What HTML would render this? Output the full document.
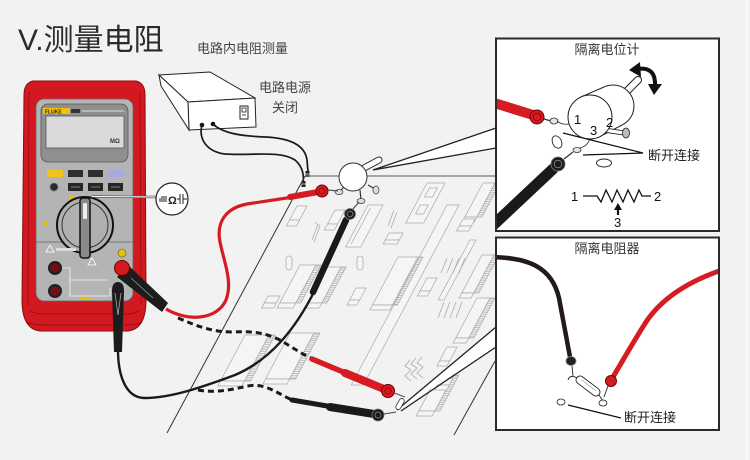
<!DOCTYPE html>
<html><head><meta charset="utf-8"><style>
html,body{margin:0;padding:0;background:#f2f2f2;}
svg{display:block;}
text{font-family:"Liberation Sans","Noto Sans CJK SC",sans-serif;}
.c{fill:#f5f5f5;stroke:#ababab;stroke-width:.8}
.s{stroke:#ababab;stroke-width:.8}
.k{fill:none;stroke:#ababab;stroke-width:.8}
</style></head><body>
<svg width="750" height="460" viewBox="0 0 750 460" xmlns="http://www.w3.org/2000/svg">
<defs>
<pattern id="h" width="4" height="2.2" patternUnits="userSpaceOnUse"><line x1="0" y1="1" x2="4" y2="1" stroke="#a5a5a5" stroke-width="0.7"/></pattern>
<clipPath id="cp1"><rect x="497" y="39.5" width="221" height="190.5"/></clipPath>
<clipPath id="cp2"><rect x="497" y="238.5" width="221" height="190.5"/></clipPath>
</defs>
<rect width="750" height="460" fill="#f2f2f2"/>
<line x1="746.5" y1="0" x2="746.5" y2="460" stroke="#fbfbfb" stroke-width="2"/>

<!-- Titles -->
<text x="18" y="50" font-size="30" fill="#2b2b2b">V.测量电阻</text>
<text x="197" y="53" font-size="13" fill="#444">电路内电阻测量</text>
<text x="259" y="92" font-size="13" fill="#444">电路电源</text>
<text x="272" y="112" font-size="13" fill="#444">关闭</text>

<!-- Power box -->
<polygon points="159,75 210,72 255,98 188,102" fill="#fff" stroke="#222" stroke-width="1"/>
<polygon points="188,102 255,98 256,127 189,130" fill="#fff" stroke="#222" stroke-width="1"/>
<polygon points="159,75 188,102 189,130 161,86" fill="#fff" stroke="#222" stroke-width="1"/>
<rect x="240" y="106" width="8" height="13" fill="#fff" stroke="#222" stroke-width="1"/>
<rect x="242" y="108" width="4" height="4" fill="none" stroke="#222" stroke-width="0.8"/>
<line x1="242" y1="115" x2="246" y2="115" stroke="#222" stroke-width="0.8"/>
<circle cx="202" cy="125" r="2.3" fill="#111"/>
<circle cx="213" cy="124" r="2.3" fill="#111"/>

<!-- Power wires -->
<path d="M202,125 C198,140 208,152 225,154 C250,156 280,150 295,160 C303,167 304,176 303,183" fill="none" stroke="#1a1a1a" stroke-width="1.7"/>
<path d="M213,124 C222,133 240,136 265,137 C290,138 305,145 307,160 L308,172" fill="none" stroke="#1a1a1a" stroke-width="1.7"/>
<rect x="305.5" y="171" width="4" height="6" fill="#222"/>
<rect x="301.5" y="181" width="4" height="6" fill="#222"/>
<line x1="305.5" y1="174" x2="309.5" y2="174" stroke="#ddd" stroke-width="0.8"/>
<line x1="301.5" y1="184" x2="305.5" y2="184" stroke="#ddd" stroke-width="0.8"/>

<!-- Board -->
<line x1="305" y1="176" x2="496" y2="176" stroke="#777" stroke-width="1.2"/>
<line x1="305" y1="176" x2="167" y2="433" stroke="#333" stroke-width="1"/>
<line x1="454" y1="435" x2="495" y2="361" stroke="#333" stroke-width="1"/>

<!-- Board components -->
<g>
 <!-- long strip -->
 <g transform="translate(447,205) skewX(-28)"><rect width="12" height="180" class="c"/></g>
 <g transform="translate(470,240) skewX(-28)"><rect width="6" height="60" class="c"/></g>
 <!-- plain rect -->
 <g transform="translate(368,205) skewX(-28)"><rect width="15" height="42" class="c"/><line x1="4" y1="3" x2="4" y2="39" class="s"/></g>
 <!-- frame with squares -->
 <g transform="translate(427,183) skewX(-28)"><rect width="18" height="40" class="c"/><rect x="5" y="5" width="8" height="9" class="c"/><rect x="5" y="22" width="8" height="9" class="c"/></g>
 <!-- ICs hatched -->
 <g transform="translate(300,265) skewX(-28)"><rect width="16" height="38" class="c"/><rect x="16" width="5" height="38" fill="url(#h)" class="s"/><rect y="38" width="16" height="5" class="c"/></g>
 <g transform="translate(327,267) skewX(-28)"><rect width="14" height="36" class="c"/><rect x="14" width="5" height="36" fill="url(#h)" class="s"/><rect y="36" width="14" height="5" class="c"/></g>
 <g transform="translate(398,257) skewX(-28)"><rect width="20" height="48" class="c"/><rect x="20" width="5" height="48" fill="url(#h)" class="s"/><rect y="48" width="20" height="5" class="c"/></g>
 <g transform="translate(483,183) skewX(-28)"><rect width="12" height="34" class="c"/><rect x="12" width="5" height="34" fill="url(#h)" class="s"/><rect y="34" width="12" height="5" class="c"/></g>
 <g transform="translate(482,255) skewX(-28)"><rect width="12" height="38" class="c"/><rect x="12" width="5" height="38" fill="url(#h)" class="s"/><rect y="38" width="12" height="5" class="c"/></g>
 <g transform="translate(477,298) skewX(-28)"><rect width="13" height="40" class="c"/><rect x="13" width="5" height="40" fill="url(#h)" class="s"/><rect y="40" width="13" height="5" class="c"/></g>
 <g transform="translate(245,335) skewX(-28)"><rect width="24" height="46" class="c"/><rect x="24" width="6" height="46" fill="url(#h)" class="s"/><rect y="46" width="24" height="5" class="c"/></g>
 <g transform="translate(290,333) skewX(-28)"><rect width="24" height="46" class="c"/><rect x="24" width="6" height="46" fill="url(#h)" class="s"/><rect y="46" width="24" height="5" class="c"/></g>
 <g transform="translate(438,375) skewX(-28)"><rect width="16" height="36" class="c"/><rect x="16" width="5" height="36" fill="url(#h)" class="s"/><rect y="36" width="16" height="5" class="c"/></g>
 <!-- cubes -->
 <g transform="translate(297,206) skewX(-28)"><rect width="10" height="14" class="c"/><rect y="14" width="10" height="6" class="c"/></g>
 <g transform="translate(335,210) skewX(-28)"><rect width="10" height="14" class="c"/><rect y="14" width="10" height="6" class="c"/></g>
 <g transform="translate(268,296) skewX(-28)"><rect width="12" height="7" class="c"/><rect y="7" width="12" height="5" class="c"/></g>
 <g transform="translate(356,288) skewX(-28)"><rect width="10" height="12" class="c"/><rect y="12" width="10" height="5" class="c"/></g>
 <g transform="translate(427,278) skewX(-28)"><rect width="10" height="13" class="c"/><rect y="13" width="10" height="5" class="c"/></g>
 <g transform="translate(463,219) skewX(-28)"><rect width="12" height="7" class="c"/><rect y="7" width="12" height="5" class="c"/></g>
 <g transform="translate(447,347) skewX(-28)"><rect width="10" height="14" class="c"/><rect y="14" width="10" height="5" class="c"/></g>
 <g transform="translate(441,378) skewX(-28)"><rect width="12" height="7" class="c"/><rect y="7" width="12" height="5" class="c"/></g>
 <g transform="translate(389,233) skewX(-28)"><rect width="14" height="7" class="c"/><rect y="7" width="14" height="4" class="c"/></g>
 <!-- capacitors -->
 <rect x="286" y="256" width="6" height="14" rx="3" class="c"/>
 <rect x="357" y="256" width="6" height="14" rx="3" class="c"/>
 <!-- resistor pins -->
 <path d="M318,224 L312,240 M315,222 L320,226 L314,242 M394,210 L388,226 M397,212 L391,228" class="k"/>
 <path d="M447,258 L441,273 M453,258 L447,273 M459,258 L453,273 M465,258 L459,273 M444,302 L438,318 M450,302 L444,318 M456,302 L450,318 M462,302 L456,318" class="k"/>
 <path d="M410,360 L405,366 L411,370 L405,376 L411,381 M416,358 L411,364 L417,368 L411,374 L417,379 M422,357 L417,363 L423,367 L417,373 L423,378" class="k"/>
</g>

<!-- Callout wedges -->
<polygon points="373,170 496,128 496,148" fill="#fff"/>
<line x1="373" y1="170" x2="496" y2="128" stroke="#222" stroke-width="1.3"/>
<line x1="373" y1="170" x2="496" y2="148" stroke="#222" stroke-width="1.3"/>
<polygon points="398,410 496,327 496,347" fill="#fff"/>
<line x1="397" y1="410" x2="496" y2="327" stroke="#222" stroke-width="1.3"/>
<line x1="401" y1="411" x2="496" y2="347" stroke="#222" stroke-width="1.3"/>

<!-- Pot on board -->
<line x1="364" y1="168" x2="379" y2="160" stroke="#333" stroke-width="7" stroke-linecap="round"/>
<line x1="364" y1="168" x2="379" y2="160" stroke="#fff" stroke-width="5" stroke-linecap="round"/>
<path d="M345,186 L340,191 M360,190 L361,200 M368,185 L375,189" stroke="#333" stroke-width="1.2"/>
<circle cx="353" cy="177" r="14" fill="#fff" stroke="#333" stroke-width="1"/>
<ellipse cx="339" cy="192" rx="4" ry="2.5" fill="#ddd" stroke="#333" stroke-width="0.7"/>
<ellipse cx="361" cy="201" rx="4" ry="2.5" fill="#ddd" stroke="#333" stroke-width="0.7"/>
<ellipse cx="376" cy="190" rx="3" ry="4" fill="#ddd" stroke="#333" stroke-width="0.7"/>

<!-- small resistor at bottom wedge apex -->
<g transform="translate(400,404) rotate(30)"><rect x="-2.5" y="-6" width="5" height="12" rx="2.5" fill="#fff" stroke="#333" stroke-width="0.8"/></g>

<!-- Meter -->
<path d="M33,81 Q24,83 24,95 L22,300 Q22,329 40,331 L128,331 Q146,329 146,300 L145,95 Q145,83 136,81 Z" fill="#d41820" stroke="#8a0c10" stroke-width="1"/>
<line x1="29" y1="92" x2="28" y2="305" stroke="#9a0d13" stroke-width="0.8"/>
<line x1="140" y1="92" x2="141" y2="305" stroke="#9a0d13" stroke-width="0.8"/>
<path d="M30,310 Q34,314 45,314 L125,314 Q136,314 139,310" fill="none" stroke="#8a0c10" stroke-width="0.8"/>
<path d="M27,322 Q32,325 45,325 L125,325 Q137,325 142,322" fill="none" stroke="#8a0c10" stroke-width="0.8"/>
<rect x="36" y="99" width="97" height="202" rx="8" fill="#b4b4b4" stroke="#666" stroke-width="0.8"/>
<rect x="41" y="104" width="87" height="58" rx="7" fill="#8f8f8f" stroke="#555" stroke-width="0.8"/>
<rect x="43" y="108" width="27" height="6" fill="#f2c200"/>
<text x="45" y="113.3" font-size="5" font-weight="bold" fill="#222">FLUKE</text>
<rect x="71" y="109" width="9" height="4" fill="#333"/>
<line x1="82" y1="111" x2="124" y2="111" stroke="#ddd" stroke-width="1"/>
<rect x="46" y="116" width="78" height="32" fill="#d9d9d9" stroke="#555" stroke-width="0.8"/>
<text x="110" y="143" font-size="6" font-weight="bold" fill="#333">MΩ</text>
<!-- buttons -->
<rect x="47" y="170" width="16" height="7" fill="#f0c419"/>
<rect x="68" y="170" width="15" height="7" fill="#2e2e2e"/>
<rect x="88" y="170" width="15" height="7" fill="#2e2e2e"/>
<rect x="108" y="170" width="16" height="7" fill="#a9a9e2"/>
<circle cx="54" cy="187" r="4" fill="#2a2a2a" stroke="#777" stroke-width="0.8"/>
<rect x="68" y="183" width="15" height="8" fill="#262626"/>
<rect x="88" y="183" width="15" height="8" fill="#262626"/>
<rect x="108" y="183" width="15" height="8" fill="#262626"/>
<line x1="71" y1="187" x2="80" y2="187" stroke="#999" stroke-width="0.8"/>
<line x1="91" y1="187" x2="100" y2="187" stroke="#999" stroke-width="0.8"/>
<line x1="111" y1="187" x2="120" y2="187" stroke="#999" stroke-width="0.8"/>
<!-- divider -->
<line x1="36" y1="242" x2="133" y2="242" stroke="#666" stroke-width="0.8"/>
<rect x="44" y="222" width="4" height="4" fill="#e8c200"/>
<rect x="69" y="196" width="4" height="3" fill="#e8c200"/>
<rect x="84" y="196" width="4" height="3" fill="#fff"/>
<!-- knob -->
<circle cx="85" cy="225" r="28" fill="#b0b0b0" stroke="#111" stroke-width="2"/>
<circle cx="85" cy="225" r="23" fill="none" stroke="#333" stroke-width="1"/>
<rect x="80" y="198" width="10" height="60" rx="3" fill="#8a8a8a" stroke="#111" stroke-width="1.5"/>
<rect x="83" y="203" width="4" height="16" rx="1.5" fill="#eee"/>
<!-- jacks -->
<circle cx="55" cy="268" r="7" fill="#222"/>
<circle cx="55" cy="268" r="4.5" fill="#7a0d14"/>
<circle cx="55" cy="291" r="7" fill="#222"/>
<circle cx="55" cy="291" r="4.5" fill="#7a0d14"/>
<polyline points="63,268 70,268 70,296 110,296 110,288" fill="none" stroke="#f4f4f4" stroke-width="0.8"/>
<line x1="70" y1="280" x2="108" y2="280" stroke="#f4f4f4" stroke-width="0.8"/>
<polygon points="46,252 50,245 54,252" fill="none" stroke="#fff" stroke-width="0.8"/>
<rect x="56" y="248" width="20" height="3" fill="#ddd"/>
<polygon points="88,265 92,258 96,265" fill="none" stroke="#fff" stroke-width="0.8"/>
<rect x="80" y="297" width="12" height="3" fill="#e8c200"/>
<circle cx="122" cy="253" r="4" fill="#e8c200" stroke="#555" stroke-width="0.6"/>

<!-- Red probe plug at meter -->
<polygon points="117,277 128,265 168,303 162,312" fill="#1c1c1c"/>
<line x1="131" y1="278" x2="153" y2="298" stroke="#9a9a9a" stroke-width="0.8"/>
<circle cx="122" cy="268" r="7.5" fill="#d51a1f" stroke="#6b0000" stroke-width="1"/>
<!-- COM probe -->
<path d="M112,291 Q112,282 118,282 Q124,282 124,291 L122,352 L114,352 Z" fill="#1c1c1c"/>
<polyline points="115,293 118,315 121,293" fill="none" stroke="#aaa" stroke-width="0.8"/>

<!-- Main red wire -->
<path d="M300,196 L247,204 C226,208 216,222 220,242 C224,262 233,282 226,300 C217,320 188,322 166,309" fill="none" stroke="#d41c22" stroke-width="3.2"/>
<!-- Black COM wire -->
<path d="M118,350 C118,372 124,398 145,398 C170,398 200,388 235,375 C270,360 295,330 315,290" fill="none" stroke="#1a1a1a" stroke-width="2.4"/>

<!-- Dashed lines -->
<path d="M178,318 C195,325 210,332 232,332 C255,331 265,333 280,340 C292,347 300,353 311,358" fill="none" stroke="#1a1a1a" stroke-width="3" stroke-dasharray="6 4"/>
<path d="M198,390 C215,393 230,390 248,386 C265,383 275,392 292,400" fill="none" stroke="#1a1a1a" stroke-width="3" stroke-dasharray="6 4"/>

<!-- Board probes -->
<line x1="290" y1="197" x2="318" y2="192" stroke="#d41c22" stroke-width="6" stroke-linecap="round"/>
<circle cx="322" cy="191" r="6" fill="#d41c22" stroke="#700" stroke-width="1"/>
<circle cx="322" cy="191" r="3" fill="none" stroke="#900" stroke-width="0.8"/>
<line x1="328" y1="190" x2="338" y2="191" stroke="#555" stroke-width="1.2"/>

<line x1="313" y1="292" x2="346" y2="220" stroke="#1a1a1a" stroke-width="6.5" stroke-linecap="round"/>
<circle cx="350" cy="214" r="5.5" fill="#1a1a1a" stroke="#777" stroke-width="0.8"/>
<circle cx="350" cy="214" r="2.8" fill="none" stroke="#888" stroke-width="0.8"/>
<line x1="353" y1="209" x2="359" y2="202" stroke="#444" stroke-width="1.1"/>

<line x1="312" y1="359" x2="384" y2="389" stroke="#d41c22" stroke-width="5.5" stroke-linecap="round"/>
<line x1="345" y1="373" x2="384" y2="389" stroke="#d41c22" stroke-width="8" stroke-linecap="round"/>
<circle cx="388" cy="391" r="6.5" fill="#d41c22" stroke="#700" stroke-width="1"/>
<circle cx="388" cy="391" r="3.2" fill="none" stroke="#900" stroke-width="0.8"/>
<line x1="394" y1="393" x2="405" y2="397" stroke="#555" stroke-width="1.1"/>

<line x1="292" y1="400" x2="374" y2="414" stroke="#1a1a1a" stroke-width="5" stroke-linecap="round"/>
<line x1="330" y1="407" x2="374" y2="414" stroke="#1a1a1a" stroke-width="8" stroke-linecap="round"/>
<circle cx="378" cy="415" r="6" fill="#1a1a1a" stroke="#777" stroke-width="0.8"/>
<circle cx="378" cy="415" r="3" fill="none" stroke="#888" stroke-width="0.8"/>
<line x1="384" y1="414" x2="396" y2="412" stroke="#444" stroke-width="1.1"/>

<!-- Ohm callout -->
<line x1="92" y1="196.5" x2="157" y2="197" stroke="#555" stroke-width="2.4"/>
<line x1="92" y1="196.5" x2="157" y2="197" stroke="#fff" stroke-width="1"/>
<circle cx="172" cy="199" r="16" fill="#fff" stroke="#222" stroke-width="1.2"/>
<path d="M160,198 L160,202 M162,196 L162,202 M164,196 L164,202 M166,196 L166,202" stroke="#222" stroke-width="1"/>
<text x="168" y="204" font-size="11" font-weight="bold" fill="#222">Ω</text>
<path d="M177,199 L180,199 M180,194 L180,204 M183,194 L183,204 M183,199 L187,199" stroke="#222" stroke-width="1"/>

<!-- Panel 1 -->
<rect x="496" y="38.5" width="223" height="192.5" fill="#fff" stroke="#2a2a2a" stroke-width="2"/>
<g clip-path="url(#cp1)">
 <line x1="488" y1="101" x2="533" y2="115" stroke="#d41c22" stroke-width="10"/>
 <line x1="488" y1="230" x2="554" y2="168" stroke="#1a1a1a" stroke-width="11"/>
</g>
<circle cx="537" cy="117" r="7" fill="#d41c22" stroke="#700" stroke-width="1"/>
<circle cx="537" cy="117" r="3.8" fill="none" stroke="#800" stroke-width="0.8"/>
<line x1="544" y1="119" x2="551" y2="121" stroke="#333" stroke-width="1.2"/>
<ellipse cx="554" cy="121" rx="4" ry="3" fill="#e5e5e5" stroke="#333" stroke-width="0.8"/>
<path d="M557,121 Q565,127 573,122" fill="none" stroke="#333" stroke-width="0.8"/>
<circle cx="558" cy="164" r="7" fill="#1a1a1a" stroke="#777" stroke-width="0.8"/>
<circle cx="558" cy="164" r="3.8" fill="none" stroke="#888" stroke-width="0.8"/>
<line x1="564" y1="159" x2="573" y2="152" stroke="#333" stroke-width="1.2"/>
<ellipse cx="577" cy="150" rx="4" ry="2.5" fill="#e5e5e5" stroke="#333" stroke-width="0.8"/>
<path d="M580,148 Q588,146 590,138" fill="none" stroke="#333" stroke-width="0.8"/>
<!-- pot body -->
<line x1="627" y1="91" x2="638" y2="80" stroke="#222" stroke-width="8" stroke-linecap="round"/>
<line x1="627" y1="91" x2="638" y2="80" stroke="#fff" stroke-width="6" stroke-linecap="round"/>
<circle cx="613" cy="106" r="21" fill="#fff" stroke="#222" stroke-width="1"/>
<polygon points="580.5,97.2 604,87 622,125 599.5,136.8" fill="#fff"/>
<line x1="580.5" y1="97.2" x2="604" y2="87" stroke="#222" stroke-width="1"/>
<line x1="599.5" y1="136.8" x2="622" y2="125" stroke="#222" stroke-width="1"/>
<line x1="604" y1="130" x2="624" y2="133" stroke="#222" stroke-width="5"/>
<line x1="604" y1="130" x2="624" y2="133" stroke="#fff" stroke-width="3.2"/>
<ellipse cx="626" cy="133" rx="3.5" ry="5" fill="#bbb" stroke="#222" stroke-width="0.8"/>
<circle cx="590" cy="117" r="22" fill="#fff" stroke="#222" stroke-width="1"/>
<path d="M637,69 Q656,66 655,86" fill="none" stroke="#111" stroke-width="4"/>
<polygon points="629,70 640,62 641,77" fill="#111"/>
<polygon points="648,84 662,84 654,95" fill="#111"/>
<text x="574" y="124" font-size="13" fill="#111">1</text>
<text x="590" y="135" font-size="13" fill="#111">3</text>
<text x="606" y="127" font-size="13" fill="#111">2</text>
<ellipse cx="557" cy="142" rx="4.5" ry="6.5" transform="rotate(-25 557 142)" fill="#fff" stroke="#222" stroke-width="0.9"/>
<ellipse cx="604" cy="163" rx="7.5" ry="4" fill="#fff" stroke="#222" stroke-width="0.9"/>
<line x1="563" y1="133" x2="643" y2="153" stroke="#111" stroke-width="1.2"/>
<line x1="583" y1="155" x2="643" y2="153" stroke="#111" stroke-width="1.2"/>
<text x="648" y="160" font-size="13" fill="#222">断开连接</text>
<text x="607" y="54" font-size="13" fill="#333" text-anchor="middle">隔离电位计</text>
<text x="571" y="201" font-size="13" fill="#111">1</text>
<path d="M583,196 L597,196 L601,202 L606,190 L612,202 L617,190 L623,202 L628,190 L634,202 L639,190 L642,196 L651,196" fill="none" stroke="#111" stroke-width="1.3"/>
<text x="654" y="201" font-size="13" fill="#111">2</text>
<line x1="618" y1="215" x2="618" y2="208" stroke="#111" stroke-width="2.2"/>
<polygon points="614,210 622,210 618,203" fill="#111"/>
<text x="614" y="227" font-size="13" fill="#111">3</text>

<!-- Panel 2 -->
<rect x="496" y="237.5" width="223" height="192.5" fill="#fff" stroke="#2a2a2a" stroke-width="2"/>
<text x="607" y="253" font-size="13" fill="#333" text-anchor="middle">隔离电阻器</text>
<g clip-path="url(#cp2)">
 <path d="M488,257 C530,257 552,268 559,298 L570,357" fill="none" stroke="#221a18" stroke-width="4.5"/>
 <path d="M728,268 C690,280 662,298 646,322 C632,344 622,362 613,377" fill="none" stroke="#d41c22" stroke-width="5"/>
</g>
<ellipse cx="571" cy="361" rx="5" ry="4.5" fill="#222" stroke="#888" stroke-width="0.8"/>
<line x1="572" y1="366" x2="573" y2="376" stroke="#333" stroke-width="1"/>
<path d="M577,378 Q570,374 568,380 M599,395 L603,401" fill="none" stroke="#222" stroke-width="0.9"/>
<g transform="translate(588,386) rotate(37)"><rect x="-14" y="-4" width="28" height="8" rx="4" fill="#fff" stroke="#222" stroke-width="0.9"/><line x1="-9" y1="-1" x2="9" y2="-1" stroke="#999" stroke-width="0.6"/></g>
<circle cx="611" cy="381" r="5.5" fill="#d41c22" stroke="#700" stroke-width="1"/>
<line x1="608" y1="386" x2="604" y2="397" stroke="#333" stroke-width="1"/>
<ellipse cx="561" cy="402" rx="4" ry="3" fill="#fff" stroke="#222" stroke-width="0.8"/>
<ellipse cx="603" cy="403" rx="4" ry="3" fill="#fff" stroke="#222" stroke-width="0.8"/>
<line x1="568" y1="405" x2="621" y2="418" stroke="#111" stroke-width="1.2"/>
<text x="624" y="422" font-size="13" fill="#222">断开连接</text>
</svg>
</body></html>
